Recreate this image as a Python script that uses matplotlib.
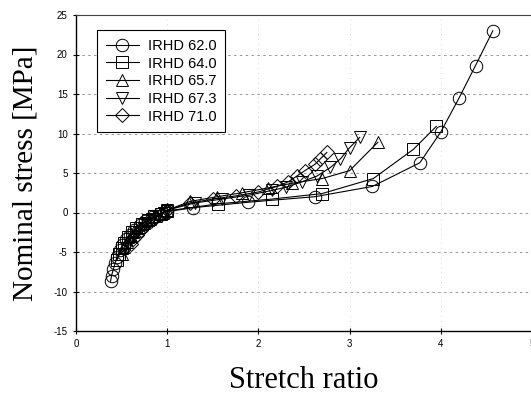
import numpy as np
import matplotlib.pyplot as plt

# IRHD 62.0 (circles)
x_620 = [0.38, 0.39, 0.41, 0.43, 0.45, 0.48, 0.51, 0.55, 0.59, 0.64, 0.70, 0.76, 0.83, 0.91, 1.0,
         1.28, 1.89, 2.62, 3.25, 3.77, 4.0, 4.2, 4.38, 4.57]
y_620 = [-8.7, -8.0, -7.2, -6.4, -5.6, -4.8, -4.1, -3.4, -2.8, -2.2, -1.6, -1.1, -0.6, -0.2, 0.1,
         0.6, 1.3, 2.0, 3.3, 6.3, 10.2, 14.5, 18.6, 23.0]

# IRHD 64.0 (squares)
x_640 = [0.45, 0.47, 0.50, 0.53, 0.57, 0.61, 0.66, 0.72, 0.79, 0.86, 0.93, 1.0,
         1.56, 2.15, 2.7, 3.26, 3.7, 3.95]
y_640 = [-6.0, -5.3, -4.5, -3.8, -3.1, -2.5, -1.9, -1.4, -0.9, -0.5, -0.2, 0.2,
         1.1, 1.7, 2.4, 4.3, 8.0, 10.9]

# IRHD 65.7 (triangles up)
x_657 = [0.50, 0.53, 0.56, 0.60, 0.64, 0.69, 0.75, 0.81, 0.88, 0.95, 1.0,
         1.25, 1.55, 1.82, 2.1, 2.37, 2.7, 3.0, 3.31]
y_657 = [-5.2, -4.4, -3.7, -3.0, -2.4, -1.8, -1.3, -0.8, -0.4, 0.0, 0.3,
         1.4, 2.0, 2.5, 3.1, 3.7, 4.3, 5.3, 8.9]

# IRHD 67.3 (triangles down)
x_673 = [0.55, 0.58, 0.62, 0.66, 0.71, 0.77, 0.83, 0.90, 0.96, 1.0,
         1.3, 1.6, 1.9, 2.15, 2.3, 2.48, 2.64, 2.79, 2.9, 3.0, 3.11]
y_673 = [-4.5, -3.8, -3.1, -2.5, -1.9, -1.3, -0.8, -0.4, 0.0, 0.3,
         1.2, 1.7, 2.2, 2.8, 3.2, 3.9, 4.6, 5.7, 6.8, 8.2, 9.5]

# IRHD 71.0 (diamonds)
x_710 = [0.60, 0.63, 0.67, 0.71, 0.76, 0.82, 0.88, 0.94, 1.0,
         1.25, 1.5, 1.75, 2.0, 2.2, 2.33, 2.42, 2.51, 2.62, 2.68, 2.75]
y_710 = [-4.0, -3.4, -2.8, -2.2, -1.6, -1.1, -0.6, -0.2, 0.3,
         1.2, 1.7, 2.1, 2.6, 3.3, 3.9, 4.6, 5.3, 6.1, 6.8, 7.6]

series = [
    ('IRHD 62.0', x_620, y_620, 'o'),
    ('IRHD 64.0', x_640, y_640, 's'),
    ('IRHD 65.7', x_657, y_657, '^'),
    ('IRHD 67.3', x_673, y_673, 'v'),
    ('IRHD 71.0', x_710, y_710, 'D'),
]
msize = {'o': 9, 's': 8.5, '^': 9, 'v': 9, 'D': 7.5}

fig = plt.figure(figsize=(5.31, 4.0), dpi=100)
ax = fig.add_axes([0.143, 0.1725, 0.859, 0.79])

for label, xs, ys, m in series:
    ax.plot(xs, ys, color='black', linewidth=0.8, marker=m, markersize=msize[m],
            markerfacecolor='none', markeredgecolor='black', markeredgewidth=0.7,
            label=label)

ax.set_xlim(0, 5)
ax.set_ylim(-15, 25)
ax.set_xticks([0, 1, 2, 3, 4, 5])
ax.set_yticks([-15, -10, -5, 0, 5, 10, 15, 20, 25])
ax.set_yticklabels(['-15', '-10', '-5', '0', '5', '10', '15', '20', '25'])

for yv in [-10, -5, 0, 5, 10, 15, 20]:
    ax.axhline(yv, color='#888888', linewidth=0.6, linestyle=(0, (3, 4)), zorder=0)
for xv in [1, 2, 3, 4]:
    ax.axvline(xv, color='#bbbbbb', linewidth=0.5, linestyle=(0, (1, 6)), zorder=0)

ax.tick_params(direction='inout', length=5, width=0.8, labelsize=7)
for lab in ax.get_xticklabels() + ax.get_yticklabels():
    lab.set_family('Liberation Sans')

ax.spines['left'].set_linewidth(1.0)
ax.spines['bottom'].set_linewidth(1.0)
ax.spines['top'].set_color('#444444')
ax.spines['right'].set_color('#444444')

ax.set_ylabel('Nominal stress [MPa]', family='Liberation Serif', fontsize=21, labelpad=11)
ax.set_xlabel('Stretch ratio', family='Liberation Serif', fontsize=22, labelpad=12)

leg = ax.legend(loc='upper left', bbox_to_anchor=(0.03, 0.975), frameon=True, fancybox=False,
                edgecolor='black', framealpha=1, prop={'family': 'Liberation Sans', 'size': 10.5},
                handlelength=2.3, handletextpad=0.6, labelspacing=0.25, borderpad=0.6)
leg.get_frame().set_linewidth(0.8)

fig.savefig('out.png', dpi=100)
